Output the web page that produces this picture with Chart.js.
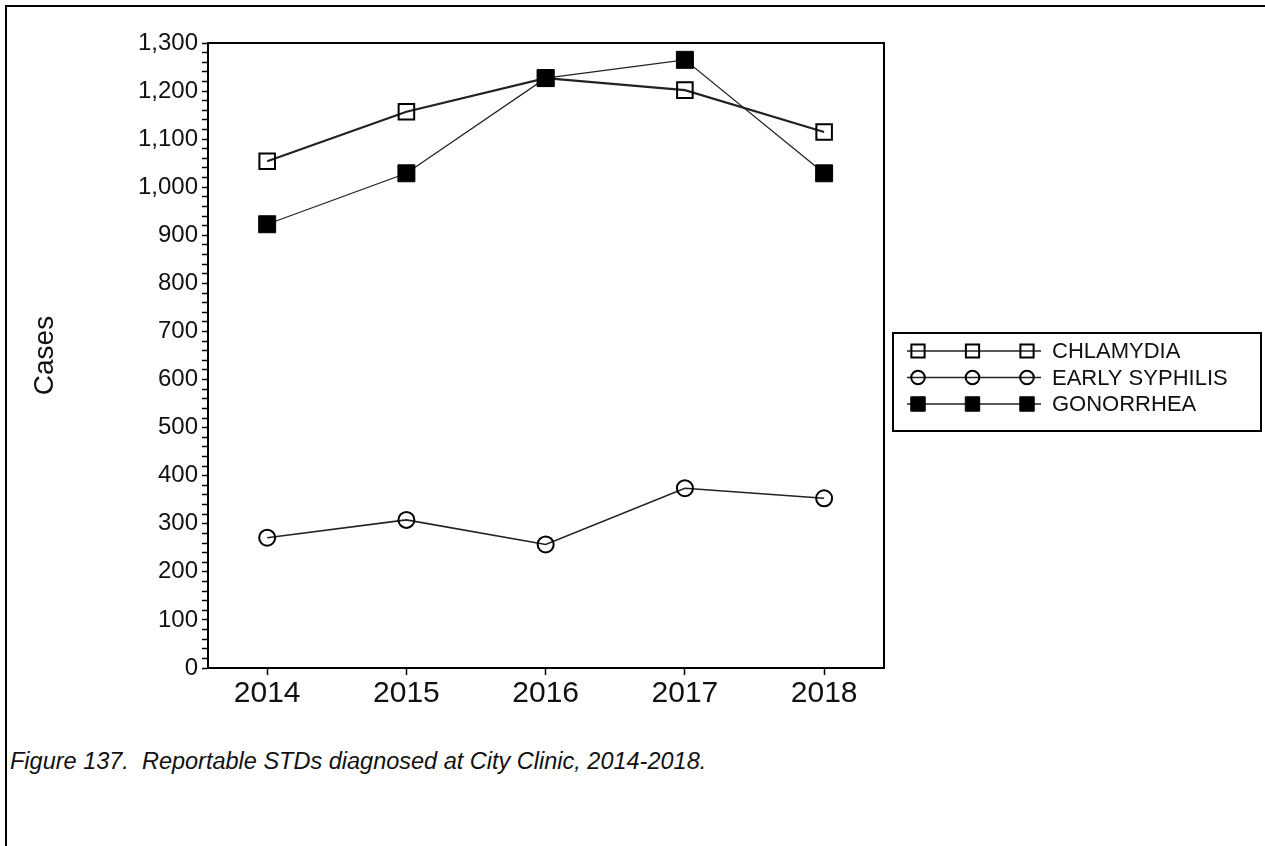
<!DOCTYPE html>
<html>
<head>
<meta charset="utf-8">
<script src="https://cdn.jsdelivr.net/npm/chart.js@4.4.0/dist/chart.umd.min.js"></script>
<style>
    html, body { margin: 0; padding: 0; background: #fff; overflow: hidden; }
    body { width: 1265px; height: 846px; position: relative; font-family: "Liberation Sans", Arial, sans-serif; }
    #frame { position: absolute; left: 5px; top: 5px; width: 1400px; height: 1000px; border-left: 2px solid #000; border-top: 2px solid #000; }
    #wrap { position: absolute; left: 0; top: 0; width: 1265px; height: 740px; }
    #caption { position: absolute; left: 10px; top: 748px; font-style: italic; font-size: 23.5px; color: #111; white-space: pre; }
</style>
</head>
<body>
<div id="frame"></div>
<div id="wrap"><canvas id="chart"></canvas></div>
<div id="caption">Figure 137.  Reportable STDs diagnosed at City Clinic, 2014-2018.</div>
<script>
// values
const years = [2014, 2015, 2016, 2017, 2018];
const chlamydia = [1054, 1157, 1227, 1202, 1115];
const earlySyphilis = [271, 308, 257, 374, 353];
const gonorrhea = [923, 1029, 1227, 1265, 1029];
const seriesNames = ['CHLAMYDIA', 'EARLY SYPHILIS', 'GONORRHEA'];
const yMax = 1300;
const yLabelStep = 100;
const yMinorStep = 20;

const FONT = '"Liberation Sans", Arial, sans-serif';
const INK = '#111';

function points(values) {
    return years.map((x, i) => ({ x: x, y: values[i] }));
}

// box round the plot area
const plotFrame = {
    id: 'plotFrame',
    beforeDatasetsDraw(chart) {
        const { ctx, chartArea: a } = chart;
        ctx.save();
        ctx.strokeStyle = '#000';
        ctx.lineWidth = 2;
        ctx.strokeRect(a.left, a.top, a.right - a.left, a.bottom - a.top);
        ctx.restore();
    }
};

// legend in a box, three markers on a line for each series
const boxLegend = {
    id: 'boxLegend',
    afterDraw(chart, args, opts) {
        const { ctx, chartArea } = chart;
        const left = chartArea.right + opts.gap;
        const top = opts.top;
        ctx.save();
        ctx.strokeStyle = '#000';
        ctx.lineWidth = 2;
        ctx.strokeRect(left, top, opts.width, opts.height);
        chart.data.datasets.forEach((ds, i) => {
            const y = top + opts.firstRow + opts.rowHeight * i;
            ctx.strokeStyle = ds.borderColor;
            ctx.lineWidth = 1.6;
            ctx.beginPath();
            ctx.moveTo(left + opts.lineFrom, y);
            ctx.lineTo(left + opts.lineTo, y);
            ctx.stroke();
            opts.markers.forEach(mx => {
                ctx.fillStyle = ds.pointBackgroundColor;
                ctx.strokeStyle = ds.pointBorderColor;
                ctx.lineWidth = ds.pointBorderWidth;
                Chart.helpers.drawPoint(ctx, {
                    pointStyle: ds.pointStyle,
                    radius: ds.pointRadius * 0.85,
                    rotation: 0,
                    borderWidth: ds.pointBorderWidth
                }, left + mx, y);
            });
            ctx.fillStyle = INK;
            ctx.font = '22px ' + FONT;
            ctx.textBaseline = 'middle';
            ctx.textAlign = 'left';
            ctx.fillText(ds.label, left + opts.textX, y + 1);
        });
        ctx.restore();
    }
};

let ctx = document.getElementById('chart');
let chart = new Chart(ctx, {
    type: 'line',
    data: {
        datasets: [
            {
                label: seriesNames[0],
                data: points(chlamydia),
                borderColor: '#222',
                borderWidth: 2.2,
                pointStyle: 'rect',
                pointRadius: 11,
                pointBorderWidth: 2,
                pointBackgroundColor: 'rgba(255,255,255,0)',
                pointBorderColor: '#000',
                order: 2,
            },
            {
                label: seriesNames[1],
                data: points(earlySyphilis),
                borderColor: '#222',
                borderWidth: 1.6,
                pointStyle: 'circle',
                pointRadius: 8,
                pointBorderWidth: 2,
                pointBackgroundColor: 'rgba(255,255,255,0)',
                pointBorderColor: '#000',
                order: 1,
            },
            {
                label: seriesNames[2],
                data: points(gonorrhea),
                borderColor: '#222',
                borderWidth: 1.3,
                pointStyle: 'rect',
                pointRadius: 12,
                pointBorderWidth: 1,
                pointBackgroundColor: '#000',
                pointBorderColor: '#000',
                order: 0,
            }
        ],
    },
    options: {
        responsive: true,
        maintainAspectRatio: false,
        animation: false,
        layout: { padding: { left: 0, top: 43, right: 381, bottom: 0 } },
        plugins: {
            legend: { display: false },
            tooltip: { enabled: false },
            boxLegend: {
                gap: 9, top: 333, width: 368, height: 98,
                firstRow: 18, rowHeight: 26.5,
                lineFrom: 14, lineTo: 148, markers: [25, 79.5, 134],
                textX: 159
            }
        },
        scales: {
            x: {
                type: 'linear',
                min: years[0] - 0.425,
                max: years[years.length - 1] + 0.43,
                afterBuildTicks: axis => { axis.ticks = years.map(v => ({ value: v })); },
                afterFit: axis => { axis.height = 72; },
                grid: { drawOnChartArea: false, tickLength: 7, tickColor: '#000', tickWidth: 1.5 },
                border: { color: '#000', width: 2 },
                ticks: {
                    font: { size: 30, family: FONT },
                    color: INK,
                    padding: 1,
                    maxRotation: 0,
                    callback: v => String(v),
                },
            },
            y: {
                min: 0,
                max: yMax,
                afterFit: axis => { axis.width = 208; },
                grid: { drawOnChartArea: false, tickLength: 6, tickColor: '#000', tickWidth: 1.5 },
                border: { color: '#000', width: 2 },
                ticks: {
                    stepSize: yMinorStep,
                    autoSkip: false,
                    font: { size: 24, family: FONT },
                    color: INK,
                    padding: 4,
                    callback: v => v % yLabelStep === 0 ? v.toLocaleString('en-US') : '',
                },
                title: {
                    display: true,
                    text: 'Cases',
                    font: { size: 28, family: FONT },
                    color: INK,
                    padding: { top: 28, bottom: 0 },
                },
            },
        },
    },
    plugins: [plotFrame, boxLegend],
});
</script>
</body>
</html>
